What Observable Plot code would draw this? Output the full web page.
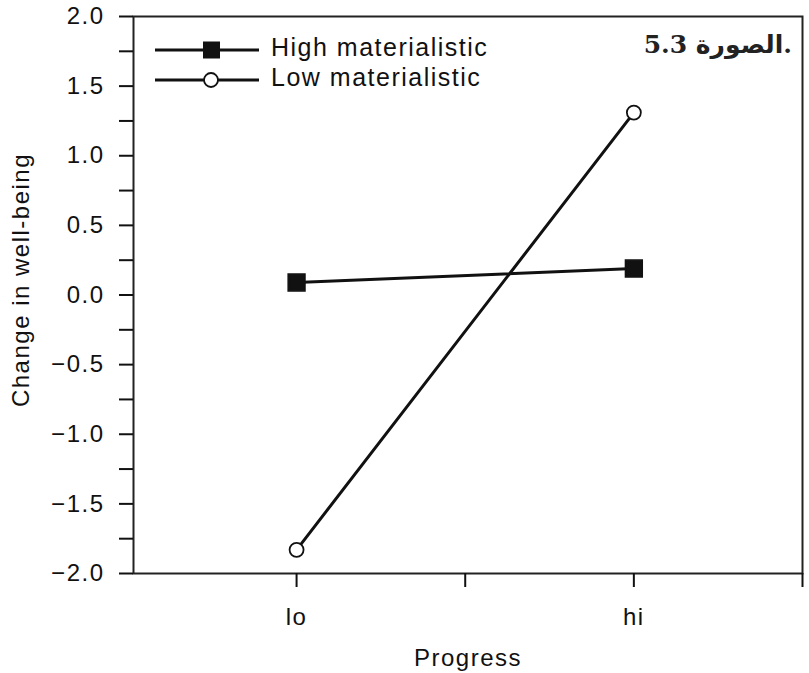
<!DOCTYPE html>
<html>
<head>
<meta charset="utf-8">
<script src="https://cdn.jsdelivr.net/npm/d3@7"></script>
<script src="https://cdn.jsdelivr.net/npm/@observablehq/plot@0.6"></script>
<style>
  html, body { margin: 0; padding: 0; background: #fff; }
  svg { display: block; }
  svg text { letter-spacing: 1.5px; }
  svg text.title { letter-spacing: 0; }
</style>
</head>
<body>
<div id="chart"></div>
<script>
const progress = ["lo", "hi"];
const progressPos = [1, 3];
const highMaterialistic = [0.09, 0.19];
const lowMaterialistic = [-1.83, 1.31];
const seriesNames = ["High materialistic", "Low materialistic"];
const yMajorTicks = [-2, -1.5, -1, -0.5, 0, 0.5, 1, 1.5, 2];
const yMinorTicks = [-1.75, -1.25, -0.75, -0.25, 0.25, 0.75, 1.25, 1.75];
const xExtraTicks = [2, 4];
const xLabel = "Progress";
const yLabel = "Change in well-being";
const title = "5.3 الصورة.";

const high = progress.map((p, i) => ({x: progressPos[i], y: highMaterialistic[i], s: seriesNames[0]}));
const low = progress.map((p, i) => ({x: progressPos[i], y: lowMaterialistic[i], s: seriesNames[1]}));

const W = 809, H = 673;
const FONT = "'Liberation Sans', Arial, sans-serif";
const fmt = d => (d < 0 ? "\u2212" : "") + Math.abs(d).toFixed(1);

const plot = Plot.plot({
  width: W,
  height: H,
  marginLeft: 133,
  marginRight: 7,
  marginTop: 16,
  marginBottom: 100,
  style: {fontFamily: FONT, fontSize: "24px", color: "#111", background: "#fff"},
  x: {domain: [0.033, 4]},
  y: {domain: [-2, 2]},
  marks: [
    Plot.frame({stroke: "#222", strokeWidth: 2}),
    Plot.axisY({ticks: yMajorTicks, tickFormat: fmt, tickSize: 14, tickPadding: 15, strokeWidth: 2, label: null}),
    Plot.axisY({ticks: yMinorTicks, tickFormat: null, tickSize: 14, strokeWidth: 2, label: null, text: null}),
    Plot.axisX({ticks: progressPos, tickFormat: (d, i) => progress[i], tickSize: 14, tickPadding: 20, strokeWidth: 2,
      label: xLabel, labelAnchor: "center", labelArrow: "none", labelOffset: 92}),
    Plot.axisX({ticks: xExtraTicks, tickFormat: null, tickSize: 14, strokeWidth: 2, label: null, text: null}),
    Plot.line(low, {x: "x", y: "y", stroke: "#111", strokeWidth: 3}),
    Plot.line(high, {x: "x", y: "y", stroke: "#111", strokeWidth: 3}),
    Plot.dot(high, {x: "x", y: "y", symbol: "square", r: 9.5, fill: "#111", stroke: "#111"}),
    Plot.dot(low, {x: "x", y: "y", symbol: "circle", r: 7, fill: "#fff", stroke: "#111", strokeWidth: 1.8})
  ]
});

document.getElementById("chart").appendChild(plot);

const svg = d3.select(plot);

// y-axis label
svg.append("text")
  .attr("transform", "translate(21,280) rotate(-90)")
  .attr("text-anchor", "middle").attr("dy", "0.35em")
  .attr("font-family", FONT).attr("font-size", 24).attr("fill", "#111")
  .text(yLabel);

// Legend
const leg = svg.append("g").attr("font-family", FONT).attr("font-size", 25).attr("fill", "#111");
const legendRows = [
  {name: seriesNames[0], y: 50, sym: "square"},
  {name: seriesNames[1], y: 80, sym: "circle"}
];
legendRows.forEach(r => {
  leg.append("line").attr("x1", 155).attr("x2", 259).attr("y1", r.y).attr("y2", r.y)
    .attr("stroke", "#111").attr("stroke-width", 3);
  if (r.sym === "square") {
    leg.append("rect").attr("x", 203).attr("y", r.y - 8.5).attr("width", 17).attr("height", 17).attr("fill", "#111");
  } else {
    leg.append("circle").attr("cx", 211).attr("cy", r.y).attr("r", 7).attr("fill", "#fff")
      .attr("stroke", "#111").attr("stroke-width", 1.8);
  }
  leg.append("text").attr("x", 271).attr("y", r.y + 6).attr("text-anchor", "start").text(r.name);
});

// Title
svg.append("text").attr("class", "title").attr("x", 792).attr("y", 53)
  .attr("text-anchor", "end").attr("font-family", "'DejaVu Serif', 'DejaVu Sans', serif")
  .attr("font-weight", "bold").attr("font-size", 25).attr("fill", "#222").text(title);
</script>
</body>
</html>
